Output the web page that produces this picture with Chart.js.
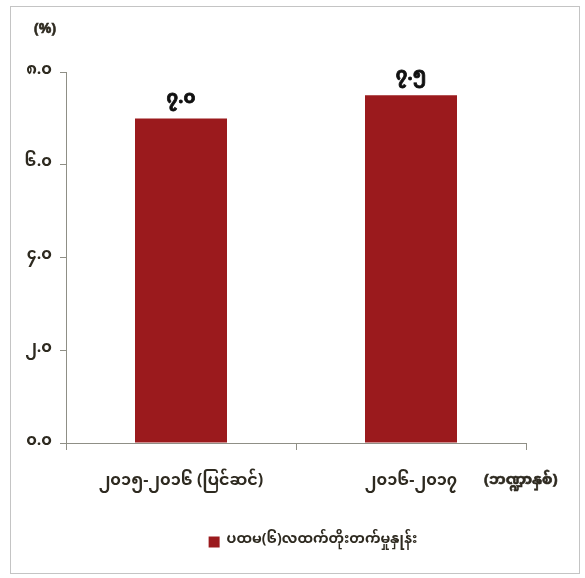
<!DOCTYPE html>
<html>
<head>
<meta charset="utf-8">
<script src="https://cdn.jsdelivr.net/npm/chart.js@4.4.1/dist/chart.umd.min.js"></script>
<style>
    html, body { margin: 0; padding: 0; background: #fff; }
    #wrap { width: 585px; height: 578px; }
</style>
</head>
<body>
<div id="wrap"><canvas id="plot-growth" width="585" height="578"></canvas></div>
<script>
const categories = ['၂၀၁၅-၂၀၁၆ (ပြင်ဆင်)', '၂၀၁၆-၂၀၁၇'];
const growthValues = [7.0, 7.5];
const valueLabels = ['၇.၀', '၇.၅'];
const yTickLabels = ['၀.၀', '၂.၀', '၄.၀', '၆.၀', '၈.၀'];
const seriesName = 'ပထမ(၆)လထက်တိုးတက်မှုနှုန်း';
const yUnit = '(%)';
const xUnit = '(ဘဏ္ဍာနှစ်)';

const myFont = '"Noto Sans Myanmar", Padauk, "Myanmar Text", "DejaVu Sans", sans-serif';
const textColor = '#2e2a20';
const barColor = '#9b1a1d';
const axisColor = '#8f8f86';

// frame, unit labels and value labels
const extras = {
    id: 'extras',
    afterLayout(chart) {
        // legend sits a bit right of the canvas centre
        const lg = chart.legend;
        lg.left += 50;
        lg.right += 50;
    },
    beforeDraw(chart) {
        const ctx = chart.ctx;
        ctx.save();
        ctx.fillStyle = '#fff';
        ctx.fillRect(0, 0, chart.width, chart.height);
        ctx.strokeStyle = '#c4c4c4';
        ctx.lineWidth = 1;
        ctx.strokeRect(10.5, 6.5, 569, 567);
        ctx.restore();
    },
    afterDatasetsDraw(chart) {
        const ctx = chart.ctx;
        const area = chart.chartArea;
        ctx.save();
        ctx.font = 'bold 14px ' + myFont;
        ctx.fillStyle = textColor;
        ctx.strokeStyle = textColor;
        ctx.lineWidth = 0.6;
        ctx.textBaseline = 'middle';
        ctx.textAlign = 'left';
        ctx.fillText(yUnit, 34, 32);
        ctx.strokeText(yUnit, 34, 32);
        ctx.font = 'bold 15px ' + myFont;
        ctx.fillText(xUnit, area.right - 42, 482);
        ctx.strokeText(xUnit, area.right - 42, 482);

        ctx.font = 'bold 18px ' + myFont;
        ctx.fillStyle = '#111';
        ctx.strokeStyle = '#111';
        ctx.lineWidth = 0.8;
        ctx.textAlign = 'center';
        ctx.textBaseline = 'bottom';
        chart.getDatasetMeta(0).data.forEach((bar, i) => {
            ctx.fillText(valueLabels[i], bar.x, bar.y - 8);
            ctx.strokeText(valueLabels[i], bar.x, bar.y - 8);
        });
        ctx.restore();
    }
};

new Chart('plot-growth', {
    type: 'bar',
    data: {
        labels: categories,
        datasets: [{
            label: seriesName,
            data: growthValues,
            backgroundColor: barColor,
            borderWidth: 0,
            categoryPercentage: 0.8,
            barPercentage: 0.5
        }]
    },
    options: {
        responsive: false,
        animation: false,
        layout: {
            padding: { left: 0, right: 59, top: 72, bottom: 19 }
        },
        scales: {
            x: {
                grid: {
                    display: true,
                    drawOnChartArea: false,
                    drawTicks: true,
                    tickLength: 7,
                    color: axisColor,
                    offset: true
                },
                border: { display: true, color: axisColor },
                ticks: {
                    color: textColor,
                    padding: 24,
                    maxRotation: 0,
                    font: { family: myFont, size: 16, weight: 'bold' }
                },
                afterFit(scale) { scale.height = 82; }
            },
            y: {
                min: 0,
                max: 8,
                ticks: {
                    stepSize: 2,
                    padding: 8,
                    color: textColor,
                    font: { family: myFont, size: 16, weight: 'bold' },
                    callback: (v) => yTickLabels[v / 2]
                },
                grid: {
                    drawOnChartArea: false,
                    drawTicks: true,
                    tickLength: 6,
                    color: axisColor
                },
                border: { display: true, color: axisColor },
                afterFit(scale) { scale.width = 66; }
            }
        },
        plugins: {
            legend: {
                position: 'bottom',
                labels: {
                    boxWidth: 11,
                    boxHeight: 11,
                    padding: 10,
                    color: textColor,
                    font: { family: myFont, size: 14, weight: 'bold' }
                }
            },
            tooltip: { enabled: false }
        }
    },
    plugins: [extras]
});
</script>
</body>
</html>
